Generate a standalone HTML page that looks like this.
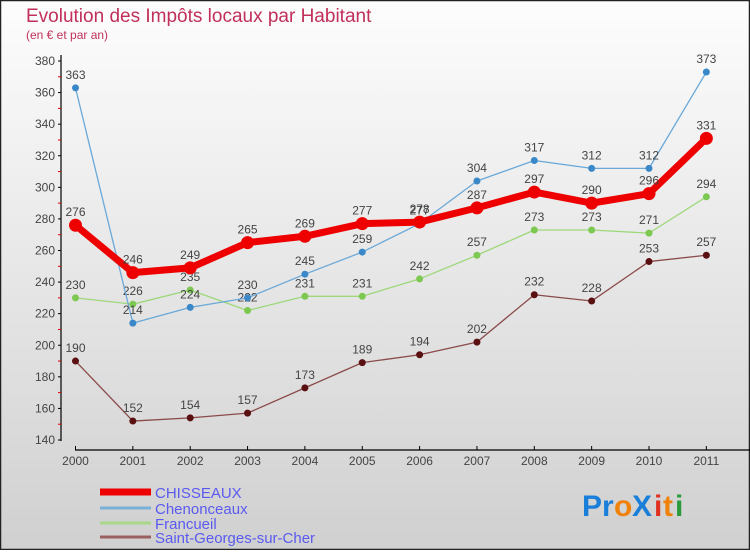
<!DOCTYPE html>
<html><head><meta charset="utf-8"><style>
html,body{margin:0;padding:0}
body{width:750px;height:550px;overflow:hidden;font-family:"Liberation Sans",sans-serif}
svg text{font-family:"Liberation Sans",sans-serif}
</style></head><body>
<svg id="chart" width="750" height="550" xmlns="http://www.w3.org/2000/svg">
<defs><linearGradient id="bg" x1="0" y1="0" x2="0" y2="1"><stop offset="0" stop-color="#fdfdfd"/><stop offset="1" stop-color="#d0d0d0"/></linearGradient></defs>
<rect x="0.5" y="0.5" width="749" height="549" fill="url(#bg)" stroke="#222" stroke-width="1.5"/>
<text x="26" y="22" font-size="19" fill="#c0305a">Evolution des Impôts locaux par Habitant</text>
<text x="26" y="39" font-size="12" fill="#c0305a">(en € et par an)</text>
<g id="axes"></g>
<g id="series"></g>
<g id="legend"></g>
<g font-size="30" font-weight="bold">
<text x="582" y="516" fill="#1a7fd8">Pr</text><text x="614" y="516" fill="#f0820a">o</text><text x="632" y="516" fill="#1a7fd8">X</text><text x="654" y="516" fill="#e03020">i</text><text x="663" y="516" fill="#f0820a">t</text><text x="675" y="516" fill="#2a9a3a">i</text>
</g>
</svg>
<script>
const years = [2000,2001,2002,2003,2004,2005,2006,2007,2008,2009,2010,2011];
const chisseaux = [276,246,249,265,269,277,278,287,297,290,296,331];
const chenonceaux = [363,214,224,230,245,259,277,304,317,312,312,373];
const francueil = [230,226,235,222,231,231,242,257,273,273,271,294];
const stgeorges = [190,152,154,157,173,189,194,202,232,228,253,257];
const yTicks = [140,160,180,200,220,240,260,280,300,320,340,360,380];
const seriesNames = ["CHISSEAUX","Chenonceaux","Francueil","Saint-Georges-sur-Cher"];

const NS="http://www.w3.org/2000/svg";
const X=i=>75.5+i*57.35;
const Y=v=>440-(v-140)*379/240;
function mk(tag,attrs,parent){const e=document.createElementNS(NS,tag);for(const k in attrs)e.setAttribute(k,attrs[k]);parent.appendChild(e);return e;}
const axes=document.getElementById('axes');
let yl=mk('line',{x1:61,y1:55,x2:61,y2:441,stroke:'#000','stroke-width':1.2},axes);


yTicks.forEach((t,i)=>{
  mk('line',{x1:58,y1:Y(t),x2:61,y2:Y(t),stroke:'#000'},axes);
  if(i<yTicks.length-1) mk('line',{x1:58,y1:Y(t+10),x2:61,y2:Y(t+10),stroke:'#d00'},axes);
  const tx=mk('text',{x:55,y:Y(t)+4,'font-size':12,'text-anchor':'end',fill:'#444'},axes);
  tx.textContent=t;
  
  
});
let xl=mk('line',{x1:75,y1:450,x2:750,y2:450,stroke:'#000','stroke-width':1.2},axes);


years.forEach((y,i)=>{
  mk('line',{x1:X(i),y1:446,x2:X(i),y2:450,stroke:'#000'},axes);
  const tx=mk('text',{x:X(i),y:465,'font-size':12,'text-anchor':'middle',fill:'#444'},axes);
  tx.textContent=y;
  
  
});
const sg=document.getElementById('series');
const defs=[
 {d:stgeorges,c:'#8a4a4a',pc:'#5a1010',w:1.3,r:3.5,n:'saint-georges-sur-cher'},
 {d:francueil,c:'#9ed87a',pc:'#7cc850',w:1.3,r:3.5,n:'francueil'},
 {d:chenonceaux,c:'#6aa8d8',pc:'#3a88c8',w:1.3,r:3.5,n:'chenonceaux'},
 {d:chisseaux,c:'#ee0000',pc:'#ee0000',w:7,r:6.5,n:'chisseaux'}
];
defs.forEach(s=>{
  const g=mk('g',{},sg);
  
  
  const p=mk('polyline',{points:s.d.map((v,i)=>X(i)+','+Y(v)).join(' '),fill:'none',stroke:s.c,'stroke-width':s.w,'stroke-linejoin':'round'},g);
  
  
  s.d.forEach((v,i)=>{
    const c=mk('circle',{cx:X(i),cy:Y(v),r:s.r,fill:s.pc},g);
    
    
    const t=mk('text',{x:X(i),y:Y(v)-9,'font-size':12,'text-anchor':'middle',fill:'#444'},g);
    t.textContent=v;
    
    
  });
});
const lg=document.getElementById('legend');
const lc=['#ee0000','#7ab0d8','#a8d888','#9a6060'],lw=[7,3,3,3],ly=[492,508,523,537];
seriesNames.forEach((n,i)=>{
  const l=mk('line',{x1:100,y1:ly[i],x2:151,y2:ly[i],stroke:lc[i],'stroke-width':lw[i]},lg);
  
  
  const t=mk('text',{x:155,y:ly[i]+6,'font-size':15,fill:'#5a5af0'},lg);
  t.textContent=n;
  
  
});
</script>
</body></html>
